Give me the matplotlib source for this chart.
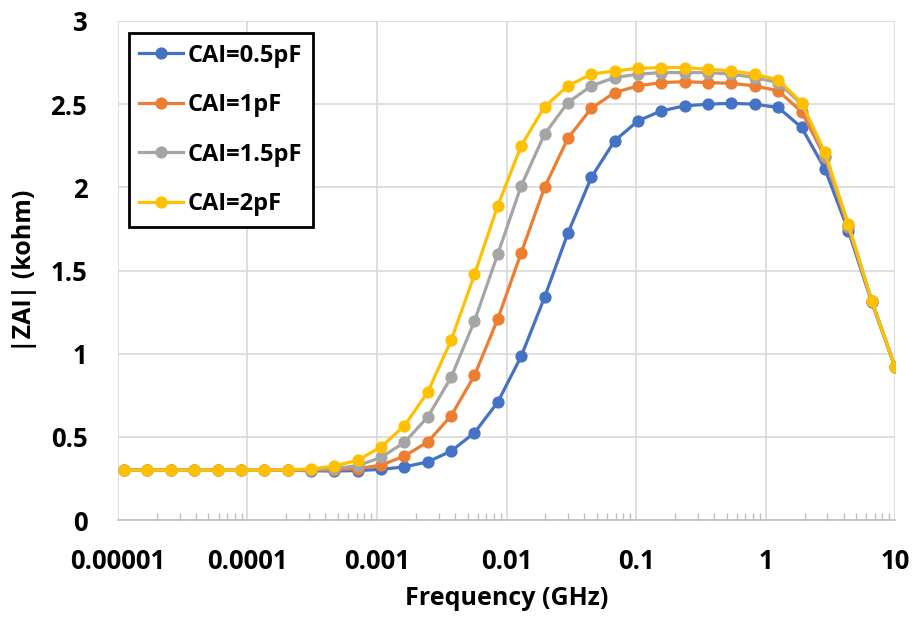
import matplotlib.pyplot as plt
from matplotlib.ticker import FixedLocator, LogLocator, NullFormatter

# frequency points (GHz)
freq = [1.11e-5, 1.69e-5, 2.56e-5, 3.87e-5, 5.87e-5, 8.89e-5, 1.346e-4, 2.04e-4,
        3.09e-4, 4.68e-4, 7.09e-4, 1.074e-3, 1.628e-3, 2.466e-3, 3.736e-3, 5.66e-3,
        8.57e-3, 0.01299, 0.01968, 0.0298, 0.04516, 0.0684, 0.1036, 0.157,
        0.2379, 0.3604, 0.546, 0.827, 1.253, 1.898, 2.876, 4.357, 6.60, 10.0]

z_05 = [0.30, 0.30, 0.30, 0.30, 0.30, 0.30, 0.30, 0.30, 0.297, 0.295, 0.298, 0.305,
        0.32, 0.35, 0.415, 0.525, 0.71, 0.985, 1.34, 1.725, 2.06, 2.28, 2.40, 2.46,
        2.49, 2.50, 2.505, 2.50, 2.48, 2.36, 2.11, 1.74, 1.31, 0.92]
z_1 = [0.30, 0.30, 0.30, 0.30, 0.30, 0.30, 0.30, 0.30, 0.30, 0.303, 0.31, 0.33,
       0.385, 0.47, 0.627, 0.87, 1.21, 1.607, 2.00, 2.295, 2.475, 2.57, 2.61, 2.63,
       2.635, 2.63, 2.625, 2.61, 2.58, 2.455, 2.18, 1.76, 1.32, 0.92]
z_15 = [0.30, 0.30, 0.30, 0.30, 0.30, 0.30, 0.30, 0.30, 0.303, 0.31, 0.327, 0.377,
        0.467, 0.62, 0.858, 1.197, 1.60, 2.01, 2.32, 2.51, 2.61, 2.66, 2.68, 2.69,
        2.69, 2.69, 2.68, 2.66, 2.63, 2.50, 2.19, 1.77, 1.32, 0.92]
z_2 = [0.30, 0.30, 0.30, 0.30, 0.30, 0.30, 0.30, 0.303, 0.307, 0.325, 0.36, 0.44,
       0.567, 0.77, 1.08, 1.477, 1.89, 2.25, 2.485, 2.61, 2.68, 2.70, 2.715, 2.72,
       2.72, 2.71, 2.70, 2.68, 2.646, 2.51, 2.21, 1.78, 1.32, 0.92]

labels = ['CAI=0.5pF', 'CAI=1pF', 'CAI=1.5pF', 'CAI=2pF']
colors = ['#4472C4', '#ED7D31', '#A5A5A5', '#FFC000']

x_ticks = [1e-5, 1e-4, 1e-3, 1e-2, 1e-1, 1, 10]
x_ticklabels = ['0.00001', '0.0001', '0.001', '0.01', '0.1', '1', '10']
y_ticks = [0, 0.5, 1, 1.5, 2, 2.5, 3]
y_ticklabels = ['0', '0.5', '1', '1.5', '2', '2.5', '3']

plt.rcParams['font.family'] = ['Open Sans', 'DejaVu Sans']
plt.rcParams['font.weight'] = 'bold'

fig = plt.figure(figsize=(9.18, 6.17), dpi=100)
ax = fig.add_axes([0.1285, 0.157, 0.8465, 0.809])

for z, lab, c in zip([z_05, z_1, z_15, z_2], labels, colors):
    ax.plot(freq, z, color=c, lw=2.3, marker='o', markersize=7.8, label=lab)

ax.set_xscale('log')
ax.set_xlim(1e-5, 10)
ax.set_ylim(0, 3)

ax.xaxis.set_major_locator(FixedLocator(x_ticks))
ax.set_xticklabels(x_ticklabels)
ax.xaxis.set_minor_locator(LogLocator(base=10, subs=range(2, 10), numticks=20))
ax.xaxis.set_minor_formatter(NullFormatter())
ax.set_yticks(y_ticks)
ax.set_yticklabels(y_ticklabels)

ax.grid(True, which='major', color='#d9d9d9', lw=1.2)
ax.set_axisbelow(True)
for s in ['top', 'right', 'left']:
    ax.spines[s].set_visible(False)
ax.spines['bottom'].set_color('#bfbfbf')
ax.spines['bottom'].set_linewidth(1.2)

ax.tick_params(axis='both', which='major', length=0, labelsize=18.5)
ax.tick_params(axis='x', which='major', pad=20)
ax.tick_params(axis='y', which='major', pad=22)
ax.tick_params(axis='x', which='minor', direction='in', length=5, color='#bfbfbf', width=1)

ax.set_xlabel('Frequency (GHz)', fontsize=18, fontweight='bold', labelpad=8)
ax.set_ylabel('|ZAI| (kohm)', fontsize=18, fontweight='bold', labelpad=10)

leg = ax.legend(loc='upper left', bbox_to_anchor=(0.014, 0.976), fontsize=17,
                frameon=True, fancybox=False, edgecolor='black', framealpha=1,
                handlelength=1.85, handletextpad=0.2, labelspacing=1.08,
                borderpad=0.45, borderaxespad=0)
leg.get_frame().set_linewidth(2)

fig.savefig('out.png', dpi=100)
